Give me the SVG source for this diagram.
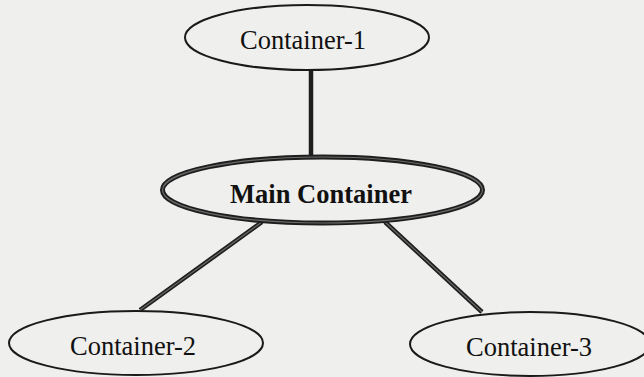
<svg xmlns="http://www.w3.org/2000/svg" width="644" height="377" viewBox="0 0 644 377">
  <style>
    .bg { fill: #efefed; }
    .node { fill: none; stroke: #1a1a1a; stroke-width: 2; }
    .main { fill: none; stroke: #1e1e1e; stroke-width: 5; }
    .mainin { fill: none; stroke: #6a6a6a; stroke-width: 1.2; }
    .edge { stroke: #1e1e1e; stroke-width: 4.5; fill: none; }
    .edgein { stroke: #6a6a6a; stroke-width: 1.2; fill: none; }
    .lbl { font-family: "Liberation Serif", "Times New Roman", serif; font-size: 26.5px; fill: #111; text-anchor: middle; }
    .bold { font-weight: bold; }
  </style>
  <rect class="bg" x="0" y="0" width="644" height="377"/>
  <g id="connectors">
    <line class="edge" x1="311" y1="70" x2="311" y2="158"/>
    <line class="edge" x1="262" y1="222" x2="140" y2="310"/>
    <line class="edgein" x1="262" y1="222" x2="140" y2="310"/>
    <line class="edge" x1="385" y1="222" x2="482" y2="312"/>
    <line class="edgein" x1="385" y1="222" x2="482" y2="312"/>
  </g>
  <g id="container-1">
    <ellipse class="node" cx="307" cy="37.5" rx="122" ry="32.5"/>
    <text class="lbl" x="303" y="49">Container-1</text>
  </g>
  <g id="main-container">
    <ellipse class="main" cx="322.5" cy="190" rx="160" ry="33"/>
    <ellipse class="mainin" cx="322.5" cy="190" rx="160" ry="33"/>
    <text class="lbl bold" x="321" y="203">Main Container</text>
  </g>
  <g id="container-2">
    <ellipse class="node" cx="136" cy="343" rx="127" ry="32"/>
    <text class="lbl" x="133" y="355">Container-2</text>
  </g>
  <g id="container-3">
    <ellipse class="node" cx="530" cy="344" rx="120" ry="32"/>
    <text class="lbl" x="529" y="356">Container-3</text>
  </g>
</svg>
